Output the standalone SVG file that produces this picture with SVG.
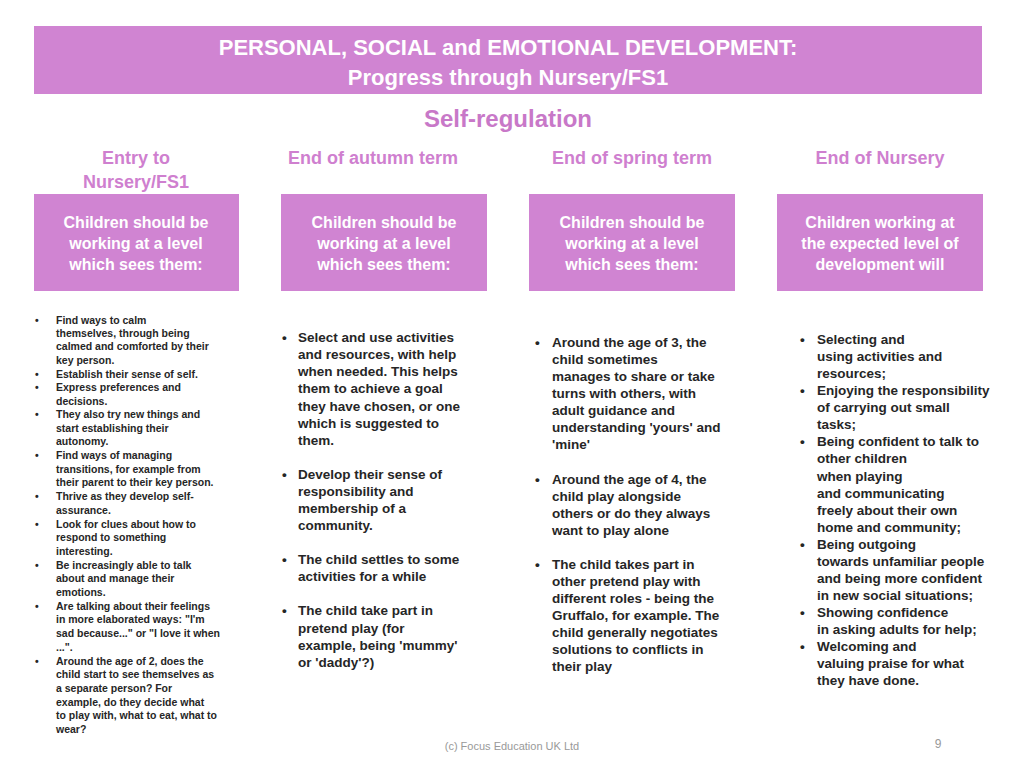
<svg xmlns="http://www.w3.org/2000/svg" width="1024" height="768" viewBox="0 0 1024 768">
<style>
text{font-family:"Liberation Sans",Arial,sans-serif;font-weight:bold}
.t{fill:#fff;font-size:22px;text-anchor:middle}
.h{fill:#CF7FCF;font-size:18px;text-anchor:middle}
.b{fill:#fff;font-size:16px;text-anchor:middle}
.box{fill:#D084D2}
.s{fill:#262626;font-size:10.5px}
.m{fill:#262626;font-size:13.5px}
</style>
<rect width="1024" height="768" fill="#fff"/>
<g id="header"><rect x="34" y="26" width="948" height="68" class="box"/>
<text class="t" x="508" y="55">PERSONAL, SOCIAL and EMOTIONAL DEVELOPMENT:</text>
<text class="t" x="508" y="85">Progress through Nursery/FS1</text></g>
<text x="508" y="127" style="fill:#C878C8;font-size:24px;text-anchor:middle">Self-regulation</text>
<g id="colheads">
<text class="h" x="136" y="164">Entry to</text><text class="h" x="136" y="188">Nursery/FS1</text>
<text class="h" x="373" y="164">End of autumn term</text>
<text class="h" x="632" y="164">End of spring term</text>
<text class="h" x="880" y="164">End of Nursery</text></g>
<g id="box1"><rect x="34" y="194" width="205" height="97" class="box"/>
<text class="b" x="136" y="228">Children should be</text><text class="b" x="136" y="249">working at a level</text><text class="b" x="136" y="270">which sees them:</text></g>
<g id="box2"><rect x="281" y="194" width="206" height="97" class="box"/>
<text class="b" x="384" y="228">Children should be</text><text class="b" x="384" y="249">working at a level</text><text class="b" x="384" y="270">which sees them:</text></g>
<g id="box3"><rect x="529" y="194" width="206" height="97" class="box"/>
<text class="b" x="632" y="228">Children should be</text><text class="b" x="632" y="249">working at a level</text><text class="b" x="632" y="270">which sees them:</text></g>
<g id="box4"><rect x="777" y="194" width="206" height="97" class="box"/>
<text class="b" x="880" y="228">Children working at</text><text class="b" x="880" y="249">the expected level of</text><text class="b" x="880" y="270">development will</text></g>
<g id="col1" class="s">
<text class="s" x="35" y="324">•</text><text class="s" x="56" y="324">Find ways to calm</text>
<text class="s" x="56" y="337">themselves, through being</text>
<text class="s" x="56" y="350">calmed and comforted by their</text>
<text class="s" x="56" y="364">key person.</text>
<text class="s" x="35" y="378">•</text><text class="s" x="56" y="378">Establish their sense of self.</text>
<text class="s" x="35" y="391">•</text><text class="s" x="56" y="391">Express preferences and</text>
<text class="s" x="56" y="405">decisions.</text>
<text class="s" x="35" y="418">•</text><text class="s" x="56" y="418">They also try new things and</text>
<text class="s" x="56" y="432">start establishing their</text>
<text class="s" x="56" y="445">autonomy.</text>
<text class="s" x="35" y="459">•</text><text class="s" x="56" y="459">Find ways of managing</text>
<text class="s" x="56" y="473">transitions, for example from</text>
<text class="s" x="56" y="486">their parent to their key person.</text>
<text class="s" x="35" y="500">•</text><text class="s" x="56" y="500">Thrive as they develop self-</text>
<text class="s" x="56" y="514">assurance.</text>
<text class="s" x="35" y="528">•</text><text class="s" x="56" y="528">Look for clues about how to</text>
<text class="s" x="56" y="541">respond to something</text>
<text class="s" x="56" y="555">interesting.</text>
<text class="s" x="35" y="569">•</text><text class="s" x="56" y="569">Be increasingly able to talk</text>
<text class="s" x="56" y="582">about and manage their</text>
<text class="s" x="56" y="596">emotions.</text>
<text class="s" x="35" y="610">•</text><text class="s" x="56" y="610">Are talking about their feelings</text>
<text class="s" x="56" y="623">in more elaborated ways: "I'm</text>
<text class="s" x="56" y="637">sad because..." or "I love it when</text>
<text class="s" x="56" y="651">...".</text>
<text class="s" x="35" y="665">•</text><text class="s" x="56" y="665">Around the age of 2, does the</text>
<text class="s" x="56" y="678">child start to see themselves as</text>
<text class="s" x="56" y="692">a separate person? For</text>
<text class="s" x="56" y="706">example, do they decide what</text>
<text class="s" x="56" y="719">to play with, what to eat, what to</text>
<text class="s" x="56" y="733">wear?</text>
</g>
<g id="col2">
<text class="m" x="282" y="342">•</text><text class="m" x="298" y="342">Select and use activities</text>
<text class="m" x="298" y="359">and resources, with help</text>
<text class="m" x="298" y="376">when needed. This helps</text>
<text class="m" x="298" y="393">them to achieve a goal</text>
<text class="m" x="298" y="411">they have chosen, or one</text>
<text class="m" x="298" y="428">which is suggested to</text>
<text class="m" x="298" y="445">them.</text>
<text class="m" x="282" y="479">•</text><text class="m" x="298" y="479">Develop their sense of</text>
<text class="m" x="298" y="496">responsibility and</text>
<text class="m" x="298" y="513">membership of a</text>
<text class="m" x="298" y="530">community.</text>
<text class="m" x="282" y="564">•</text><text class="m" x="298" y="564">The child settles to some</text>
<text class="m" x="298" y="581">activities for a while</text>
<text class="m" x="282" y="615">•</text><text class="m" x="298" y="615">The child take part in</text>
<text class="m" x="298" y="633">pretend play (for</text>
<text class="m" x="298" y="650">example, being 'mummy'</text>
<text class="m" x="298" y="667">or 'daddy'?)</text>
</g>
<g id="col3">
<text class="m" x="535" y="347">•</text><text class="m" x="552" y="347">Around the age of 3, the</text>
<text class="m" x="552" y="364">child sometimes</text>
<text class="m" x="552" y="381">manages to share or take</text>
<text class="m" x="552" y="398">turns with others, with</text>
<text class="m" x="552" y="415">adult guidance and</text>
<text class="m" x="552" y="432">understanding 'yours' and</text>
<text class="m" x="552" y="449">'mine'</text>
<text class="m" x="535" y="484">•</text><text class="m" x="552" y="484">Around the age of 4, the</text>
<text class="m" x="552" y="501">child play alongside</text>
<text class="m" x="552" y="518">others or do they always</text>
<text class="m" x="552" y="535">want to play alone</text>
<text class="m" x="535" y="569">•</text><text class="m" x="552" y="569">The child takes part in</text>
<text class="m" x="552" y="586">other pretend play with</text>
<text class="m" x="552" y="603">different roles - being the</text>
<text class="m" x="552" y="620">Gruffalo, for example. The</text>
<text class="m" x="552" y="637">child generally negotiates</text>
<text class="m" x="552" y="654">solutions to conflicts in</text>
<text class="m" x="552" y="671">their play</text>
</g>
<g id="col4">
<text class="m" x="800" y="344">•</text><text class="m" x="817" y="344">Selecting and</text>
<text class="m" x="817" y="361">using activities and</text>
<text class="m" x="817" y="378">resources;</text>
<text class="m" x="800" y="395">•</text><text class="m" x="817" y="395">Enjoying the responsibility</text>
<text class="m" x="817" y="412">of carrying out small</text>
<text class="m" x="817" y="429">tasks;</text>
<text class="m" x="800" y="446">•</text><text class="m" x="817" y="446">Being confident to talk to</text>
<text class="m" x="817" y="463">other children</text>
<text class="m" x="817" y="481">when playing</text>
<text class="m" x="817" y="498">and communicating</text>
<text class="m" x="817" y="515">freely about their own</text>
<text class="m" x="817" y="532">home and community;</text>
<text class="m" x="800" y="549">•</text><text class="m" x="817" y="549">Being outgoing</text>
<text class="m" x="817" y="566">towards unfamiliar people</text>
<text class="m" x="817" y="583">and being more confident</text>
<text class="m" x="817" y="600">in new social situations;</text>
<text class="m" x="800" y="617">•</text><text class="m" x="817" y="617">Showing confidence</text>
<text class="m" x="817" y="634">in asking adults for help;</text>
<text class="m" x="800" y="651">•</text><text class="m" x="817" y="651">Welcoming and</text>
<text class="m" x="817" y="668">valuing praise for what</text>
<text class="m" x="817" y="685">they have done.</text>
</g>
<g id="connectors"></g>
<text x="512" y="750" style="font-weight:normal;fill:#999;font-size:11px;text-anchor:middle">(c) Focus Education UK Ltd</text>
<text x="938" y="748" style="font-weight:normal;fill:#999;font-size:12px;text-anchor:middle">9</text>
</svg>
